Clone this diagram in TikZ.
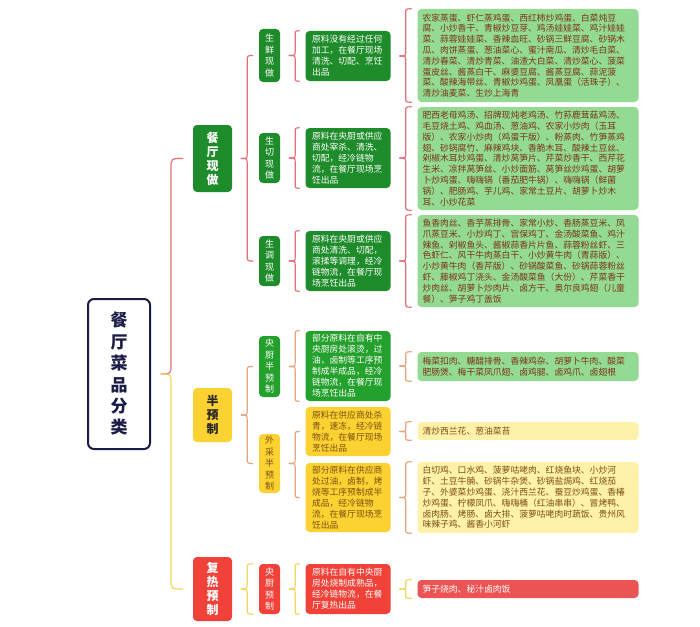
\documentclass[tikz,border=0pt]{standalone}
\usepackage{fontspec}
\setmainfont{Noto Sans CJK SC}
\usetikzlibrary{calc}
\definecolor{dg}{HTML}{1F8C2B}
\definecolor{bg}{HTML}{24A02C}
\definecolor{lg}{HTML}{93DA92}
\definecolor{yel}{HTML}{FCD232}
\definecolor{ly}{HTML}{FFF1A8}
\definecolor{rd}{HTML}{F04238}
\definecolor{lrd}{HTML}{EC5454}
\definecolor{navy}{HTML}{1C1C48}
\definecolor{brR}{HTML}{E66C78}
\definecolor{brO}{HTML}{E4A47C}
\definecolor{brY}{HTML}{F2D660}
\definecolor{txtG}{HTML}{7A3418}
\definecolor{txtY}{HTML}{7A5010}
\tikzset{
  box/.style={rounded corners=4pt, inner sep=0pt, draw=none},
  rootbox/.style={draw=navy, line width=2pt, fill=white, rounded corners=6pt, inner sep=0pt,
    minimum width=62pt, minimum height=150pt, text=navy, align=center,
    font=\fontsize{17}{21.4}\selectfont\bfseries},
  lvone/.style={box, minimum width=39pt, align=center, font=\fontsize{12}{14}\selectfont\bfseries},
  lvtwo/.style={box, minimum width=21pt, align=center, font=\fontsize{9}{11.5}\selectfont},
  desc/.style={box, minimum width=85pt, text width=72pt, align=left, font=\fontsize{8.8}{11}\selectfont},
  leaf/.style={box, minimum width=221pt, text width=211pt, align=left, font=\fontsize{8.8}{10.8}\selectfont},
  bracestyle/.style={line width=1.2pt, line cap=round, line join=round},
}
\def\tg{9pt}\def\lg{6pt}\def\eg{6pt}
% #1 top colour, #2 bottom colour, #3 parent, #4 first end, #5 last end, #6 radius
\newcommand\cbr[6]{%
  \draw[bracestyle,#1] let \p1=(#3.east), \p2=(#4), \p3=(#5) in
    (\x2-\eg,\y2) .. controls (\x1+\tg+\lg,\y2) .. (\x1+\tg+\lg,\y2-#6)
    -- (\x1+\tg+\lg,\y1+#6) .. controls (\x1+\tg+\lg,\y1) .. (\x1+\tg,\y1);
  \draw[bracestyle,#2] let \p1=(#3.east), \p2=(#4), \p3=(#5) in
    (\x1+\tg,\y1) .. controls (\x1+\tg+\lg,\y1) .. (\x1+\tg+\lg,\y1-#6)
    -- (\x1+\tg+\lg,\y3+#6) .. controls (\x1+\tg+\lg,\y3) .. (\x2-\eg,\y3);
}
\begin{document}
\begin{tikzpicture}[x=1pt,y=-1pt]
\useasboundingbox[fill=white] (0,0) rectangle (700,626);
% root
\node[rootbox] (root) at (119,374) {餐\\厅\\菜\\品\\分\\类};
% level 1
\node[lvone, fill=dg, text=white, minimum height=67pt] (A) at (212.5,158.5) {餐\\厅\\现\\做};
\node[lvone, fill=yel, text=black!85, minimum height=54pt] (B) at (212.5,415) {半\\预\\制};
\node[lvone, fill=rd, text=white, minimum height=64pt] (C) at (212.5,589) {复\\热\\预\\制};
% level 2
\node[lvtwo, fill=dg, text=white, minimum height=53pt] (A1) at (269.5,55.5) {生\\鲜\\现\\做};
\node[lvtwo, fill=dg, text=white, minimum height=50pt] (A2) at (269.5,158) {生\\切\\现\\做};
\node[lvtwo, fill=dg, text=white, minimum height=50pt] (A3) at (269.5,261) {生\\调\\现\\做};
\node[lvtwo, fill=bg, text=white, minimum height=61pt] (B1) at (269.5,366.5) {央\\厨\\半\\预\\制};
\node[lvtwo, fill=yel, text=txtY, minimum height=59pt] (B2) at (269.5,463.5) {外\\采\\半\\预\\制};
\node[lvtwo, fill=rd, text=white, minimum height=50pt] (C1) at (269.5,589) {央\\厨\\预\\制};
% descriptions
\node[desc, fill=dg, text=white, minimum height=50pt] (D1) at (348,56) {原料没有经过任何\\加工，在餐厅现场\\清洗、切配、烹饪\\出品};
\node[desc, fill=dg, text=white, minimum height=60pt] (D2) at (348,158) {原料在央厨或供应\\商处宰杀、清洗、\\切配，经冷链物\\流，在餐厅现场烹\\饪出品};
\node[desc, fill=dg, text=white, minimum height=60pt] (D3) at (348,261) {原料在央厨或供应\\商处清洗、切配，\\滚揉等调理，经冷\\链物流，在餐厅现\\场烹饪出品};
\node[desc, fill=bg, text=white, minimum height=70pt] (D4) at (348,366) {部分原料在自有中\\央厨房处滚烫，过\\油，卤制等工序预\\制成半成品，经冷\\链物流，在餐厅现\\场烹饪出品};
\node[desc, fill=yel, text=txtY, minimum height=49pt] (D5) at (348,431.5) {原料在供应商处杀\\青，速冻，经冷链\\物流，在餐厅现场\\烹饪出品};
\node[desc, fill=yel, text=txtY, minimum height=69pt] (D6) at (348,497.5) {部分原料在供应商\\处过油，卤制，烤\\烧等工序预制成半\\成品，经冷链物\\流，在餐厅现场烹\\饪出品};
\node[desc, fill=rd, text=white, minimum height=50pt] (D7) at (348,589) {原料在自有中央厨\\房处烧制成熟品，\\经冷链物流，在餐\\厅复热出品};
% leaves
\node[leaf, fill=lg, text=txtG, minimum height=93pt] (E1) at (528,55.5) {农家蒸蛋、虾仁蒸鸡蛋、西红柿炒鸡蛋、白菜炖豆\\腐、小炒香干、青椒炒豆芽、鸡汤娃娃菜、鸡汁娃娃\\菜、蒜蓉娃娃菜、香辣血旺、砂锅三鲜豆腐、砂锅木\\瓜、肉饼蒸蛋、葱油菜心、蜜汁南瓜、清炒毛白菜、\\清炒春菜、清炒青菜、油渣大白菜、清炒菜心、菠菜\\蛋皮丝、酱蒸白干、麻婆豆腐、酱蒸豆腐、蒜泥菠\\菜、酸辣海带丝、青椒炒鸡蛋、凤凰蛋（活珠子）、\\清炒油麦菜、生炒上海青};
\node[leaf, fill=lg, text=txtG, minimum height=103pt] (E2) at (528,158.5) {肥西老母鸡汤、招牌现炖老鸡汤、竹荪鹿茸菇鸡汤、\\毛豆烧土鸡、鸡血汤、葱油鸡、农家小炒肉（玉耳\\版）、农家小炒肉（鸡蛋干版）、粉蒸肉、竹笋蒸鸡\\翅、砂锅腐竹、麻辣鸡块、香脆木耳、酸辣土豆丝、\\剁椒木耳炒鸡蛋、清炒莴笋片、芹菜炒香干、西芹花\\生米、凉拌莴笋丝、小炒面筋、莴笋丝炒鸡蛋、胡萝\\卜炒鸡蛋、嗨嗨锅（番茄肥牛锅）、嗨嗨锅（鲜菌\\锅）、肥肠鸡、芋儿鸡、家常土豆片、胡萝卜炒木\\耳、小炒花菜};
\node[leaf, fill=lg, text=txtG, minimum height=92pt] (E3) at (528,261) {鱼香肉丝、香芋蒸排骨、家常小炒、香肠蒸豆米、凤\\爪蒸豆米、小炒鸡丁、宫保鸡丁、金汤酸菜鱼、鸡汁\\辣鱼、剁椒鱼头、酱椒蒜香片片鱼、蒜蓉粉丝虾、三\\色虾仁、风干牛肉蒸白干、小炒黄牛肉（青蒜版）、\\小炒黄牛肉（香芹版）、砂锅酸菜鱼、砂锅蒜蓉粉丝\\虾、藤椒鸡丁浇头、金汤酸菜鱼（大份）、芹菜香干\\炒肉丝、胡萝卜炒肉片、卤方干、奥尔良鸡翅（儿童\\餐）、笋子鸡丁盖饭};
\node[leaf, fill=lg, text=txtG, minimum height=29pt] (E4) at (528,366.5) {梅菜扣肉、糖醋排骨、香辣鸡杂、胡萝卜牛肉、酸菜\\肥肠煲、梅干菜凤爪翅、卤鸡腿、卤鸡爪、卤翅根};
\node[leaf, fill=ly, text=txtY, minimum height=18pt] (E5) at (528,431) {清炒西兰花、葱油菜苔};
\node[leaf, fill=ly, text=txtY, minimum height=71pt] (E6) at (528,497.5) {白切鸡、口水鸡、菠萝咕咾肉、红烧鱼块、小炒河\\虾、土豆牛腩、砂锅牛杂煲、砂锅盐焗鸡、红烧茄\\子、外婆菜炒鸡蛋、浇汁西兰花、蚕豆炒鸡蛋、香椿\\炒鸡蛋、柠檬凤爪、嗨嗨桶（红油串串）、冒烤鸭、\\卤肉肠、烤肠、卤大排、菠萝咕咾肉时蔬饭、贵州风\\味辣子鸡、酱香小河虾};
\node[leaf, fill=lrd, text=white, minimum height=18pt] (E7) at (528,589) {笋子烧肉、秘汁卤肉饭};
% braces
{\def\tg{10pt}\def\lg{10pt}\def\eg{10pt}
 \cbr{brR}{brY}{root}{A.west}{C.west}{10pt}}
\cbr{brR}{brR}{A}{A1.west}{A3.west}{6pt}
\cbr{brO}{brO}{B}{B1.west}{B2.west}{6pt}
\cbr{brY}{brY}{C}{C1.north west}{C1.south west}{6pt}
\cbr{brR}{brR}{A1}{D1.north west}{D1.south west}{5pt}
\cbr{brR}{brR}{A2}{D2.north west}{D2.south west}{5pt}
\cbr{brR}{brR}{A3}{D3.north west}{D3.south west}{5pt}
\cbr{brO}{brO}{B1}{D4.north west}{D4.south west}{5pt}
\cbr{brO}{brO}{B2}{D5.west}{D6.west}{5pt}
\cbr{brY}{brY}{C1}{D7.north west}{D7.south west}{5pt}
\cbr{brR}{brR}{D1}{E1.north west}{E1.south west}{5pt}
\cbr{brR}{brR}{D2}{E2.north west}{E2.south west}{5pt}
\cbr{brR}{brR}{D3}{E3.north west}{E3.south west}{5pt}
\cbr{brO}{brO}{D4}{E4.north west}{E4.south west}{4pt}
\cbr{brO}{brO}{D5}{E5.north west}{E5.south west}{3pt}
\cbr{brO}{brO}{D6}{E6.north west}{E6.south west}{5pt}
\cbr{brY}{brY}{D7}{E7.north west}{E7.south west}{3pt}
\end{tikzpicture}
\end{document}
